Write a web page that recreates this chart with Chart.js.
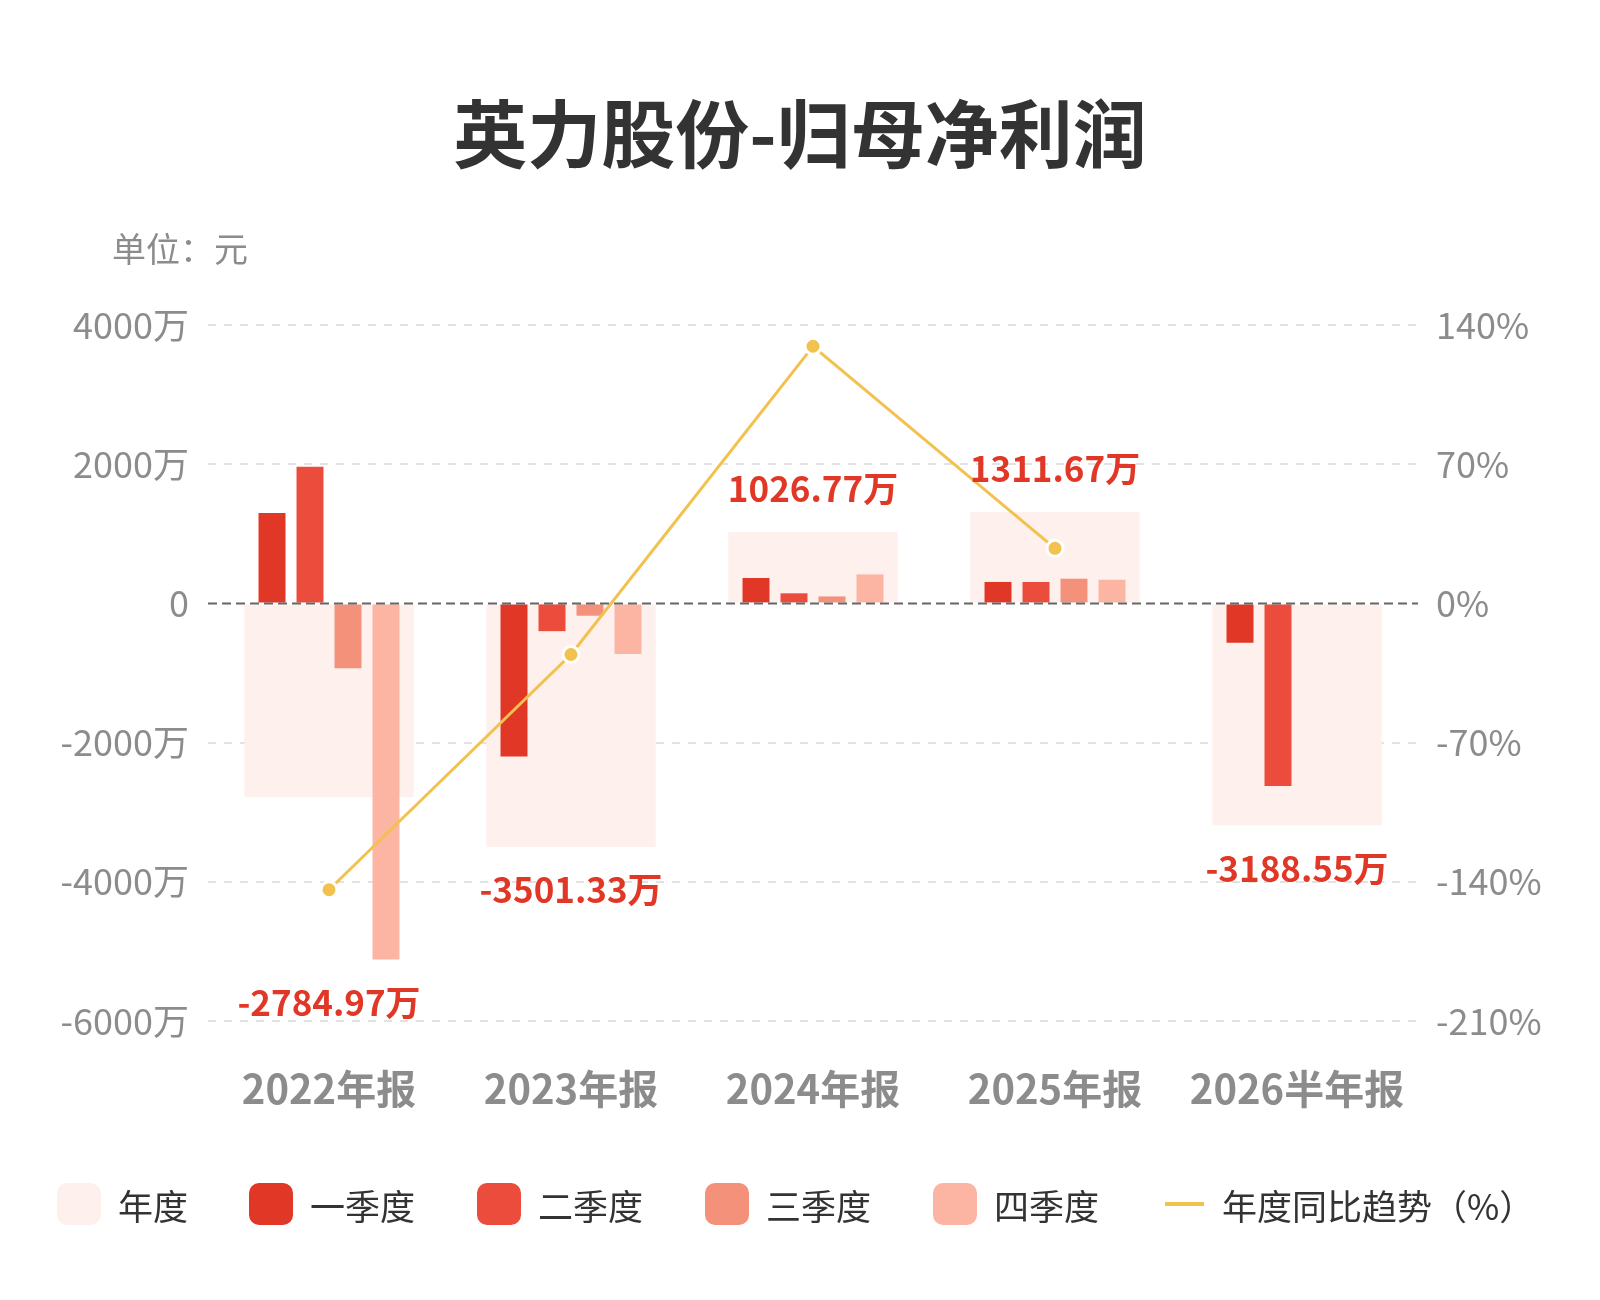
<!DOCTYPE html>
<html>
<head>
<meta charset="utf-8">
<script src="https://cdn.jsdelivr.net/npm/chart.js@4.4.1/dist/chart.umd.min.js"></script>
<style>
  html, body { margin: 0; padding: 0; background: #fff; }
  #wrap { position: relative; width: 1600px; height: 1300px; }
  #c { position: absolute; left: 0; top: 0; }
  .title { position: absolute; left: 0; width: 1600px; top: 82px; text-align: center;
    font: bold 74px 'Noto Sans CJK SC', sans-serif; color: #333; line-height: 96px; }
  .unit { position: absolute; left: 112px; top: 224px; font: 34px 'Noto Sans CJK SC', sans-serif; color: #8c8c8c; line-height: 48px; }
  .lg { position: absolute; top: 1182px; height: 44px; display: flex; align-items: center;
    font: 35px 'Noto Sans CJK SC', sans-serif; color: #333; white-space: nowrap; }
  .lg .bx { width: 44px; height: 42px; border-radius: 10px; margin-right: 17px; }
  .lg .ln { width: 39px; height: 4px; margin-right: 18px; }
</style>
</head>
<body>
<div id="wrap">
  <canvas id="c" width="1600" height="1300"></canvas>
  <div class="title">英力股份-归母净利润</div>
  <div class="unit">单位：元</div>
  <div id="legend"></div>
</div>
<script>
const categories = ['2022年报', '2023年报', '2024年报', '2025年报', '2026半年报'];
const annual = [-2784.97, -3501.33, 1026.77, 1311.67, -3188.55];
const q1 = [1299, -2199, 365, 308, -565];
const q2 = [1963, -399, 145, 308, -2624];
const q3 = [-930, -177, 100, 355, null];
const q4 = [-5117, -726, 417, 340, null];
const yoy = [-144, -25.7, 129.3, 27.7, null];
const leftTicks = [-6000, -4000, -2000, 0, 2000, 4000];
const rightTicks = [-210, -140, -70, 0, 70, 140];

const COL = { annual: '#FEF1ED', q1: '#E03726', q2: '#EC4C3C', q3: '#F4917A', q4: '#FCB4A3', line: '#F2C14E' };
const NUM_FONT = "'Noto Sans CJK SC', sans-serif";

// legend (HTML)
const legendItems = [
  { text: '年度', color: COL.annual, x: 57 },
  { text: '一季度', color: COL.q1, x: 249 },
  { text: '二季度', color: COL.q2, x: 477 },
  { text: '三季度', color: COL.q3, x: 705 },
  { text: '四季度', color: COL.q4, x: 933 },
  { text: '年度同比趋势（%）', color: COL.line, x: 1165, line: true }
];
const lgEl = document.getElementById('legend');
legendItems.forEach(it => {
  const d = document.createElement('div');
  d.className = 'lg';
  d.style.left = it.x + 'px';
  const s = document.createElement('span');
  s.className = it.line ? 'ln' : 'bx';
  s.style.background = it.color;
  d.appendChild(s);
  const t = document.createElement('span');
  t.textContent = it.text;
  d.appendChild(t);
  lgEl.appendChild(d);
});

const zeroLine = {
  id: 'zeroLine',
  afterDatasetsDraw(chart) {
    const { ctx, chartArea, scales } = chart;
    const y = scales.y.getPixelForValue(0);
    ctx.save();
    ctx.strokeStyle = '#666';
    ctx.lineWidth = 2;
    ctx.setLineDash([9, 5]);
    ctx.beginPath();
    ctx.moveTo(chartArea.left, y);
    ctx.lineTo(chartArea.right, y);
    ctx.stroke();
    ctx.restore();
  }
};

const valueLabels = {
  id: 'valueLabels',
  afterDatasetsDraw(chart) {
    const { ctx, scales } = chart;
    ctx.save();
    ctx.font = 'bold 35px ' + NUM_FONT;
    ctx.fillStyle = '#E03726';
    ctx.textAlign = 'center';
    ctx.textBaseline = 'middle';
    categories.forEach((c, i) => {
      const vals = [annual[i], q1[i], q2[i], q3[i], q4[i]].filter(v => v !== null);
      const x = scales.x.getPixelForValue(i);
      let y;
      if (annual[i] >= 0) {
        y = scales.y.getPixelForValue(Math.max(...vals)) - 43;
      } else {
        y = scales.y.getPixelForValue(Math.min(...vals)) + 43;
      }
      ctx.fillText(annual[i].toFixed(2) + '万', x, y);
    });
    ctx.restore();
  }
};

const qOpts = { xAxisID: 'x', yAxisID: 'y', categoryPercentage: 0.628, barPercentage: 0.71, order: 2 };

new Chart(document.getElementById('c'), {
  type: 'bar',
  data: {
    labels: categories,
    datasets: [
      { type: 'line', label: '年度同比趋势（%）', data: yoy, yAxisID: 'y1', xAxisID: 'x',
        borderColor: COL.line, borderWidth: 3, pointRadius: 8, pointHoverRadius: 8,
        pointBackgroundColor: COL.line, pointBorderColor: '#fff', pointBorderWidth: 3,
        tension: 0, spanGaps: false, order: 0 },
      Object.assign({ label: '一季度', data: q1, backgroundColor: COL.q1 }, qOpts),
      Object.assign({ label: '二季度', data: q2, backgroundColor: COL.q2 }, qOpts),
      Object.assign({ label: '三季度', data: q3, backgroundColor: COL.q3 }, qOpts),
      Object.assign({ label: '四季度', data: q4, backgroundColor: COL.q4 }, qOpts),
      { label: '年度', data: annual, backgroundColor: COL.annual, xAxisID: 'x', yAxisID: 'y',
        grouped: false, categoryPercentage: 1, barPercentage: 0.7, order: 5 }
    ]
  },
  options: {
    responsive: false,
    animation: false,
    layout: { padding: { left: 0, right: 0, top: 325, bottom: 159 } },
    plugins: { legend: { display: false }, tooltip: { enabled: false }, title: { display: false } },
    scales: {
      x: {
        type: 'category', position: 'bottom', offset: true,
        grid: { display: false, drawTicks: false },
        border: { display: false },
        ticks: { color: '#8c8c8c', font: { family: NUM_FONT, size: 40, weight: 'bold' }, padding: 44, maxRotation: 0, autoSkip: false },
        afterFit(s) { s.height = 120; }
      },
      y: {
        position: 'left', min: -6000, max: 4000,
        afterBuildTicks(s) { s.ticks = leftTicks.map(v => ({ value: v })); },
        grid: { color: ctx => (ctx.tick && ctx.tick.value === 0) ? 'rgba(0,0,0,0)' : '#e2e2e2', lineWidth: 2, drawTicks: false },
        border: { display: false, dash: [8, 8] },
        ticks: { color: '#8c8c8c', font: { family: NUM_FONT, size: 36 }, padding: 19,
          callback: v => v === 0 ? '0' : v + '万' },
        afterFit(s) { s.width = 208; }
      },
      y1: {
        position: 'right', min: -210, max: 140,
        afterBuildTicks(s) { s.ticks = rightTicks.map(v => ({ value: v })); },
        grid: { display: false, drawTicks: false },
        border: { display: false },
        ticks: { color: '#8c8c8c', font: { family: NUM_FONT, size: 36 }, padding: 18,
          callback: v => v + '%' },
        afterFit(s) { s.width = 182; }
      }
    }
  },
  plugins: [zeroLine, valueLabels]
});
</script>
</body>
</html>
